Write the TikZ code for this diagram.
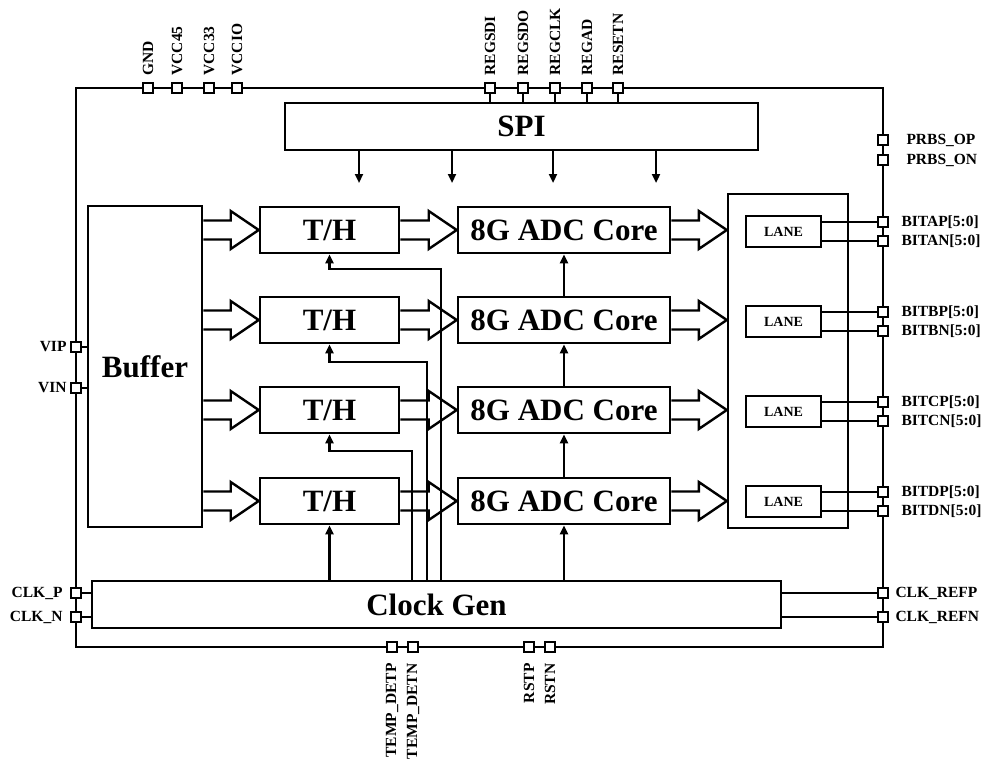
\documentclass[tikz,border=0pt]{standalone}
\usepackage{fontspec}
\setmainfont{Liberation Serif}
\usetikzlibrary{arrows.meta,calc}

% hollow block arrow from #1 to the tip #2 (both given as coordinates)
\newcommand\fatarrow[2]{%
  \draw[hollow] let \p1=#1, \p2=#2 in
    (\x1,\y1+9.5pt) -- (\x2-28pt,\y1+9.5pt) -- (\x2-28pt,\y1+19pt) -- (\x2,\y1)
    -- (\x2-28pt,\y1-19pt) -- (\x2-28pt,\y1-9.5pt) -- (\x1,\y1-9.5pt);}

\begin{document}
\begin{tikzpicture}[x=1pt,y=-1pt,
  box/.style={draw, line width=2.6pt, fill=white, inner sep=0pt},
  pad/.style={draw, line width=2.6pt, fill=white, minimum size=10pt, inner sep=0pt},
  pin/.style={font=\fontsize{15.5}{18}\selectfont\bfseries, inner sep=0pt},
  big/.style={font=\fontsize{31}{35}\selectfont\bfseries},
  wire/.style={line width=2.2pt},
  thinwire/.style={line width=1.8pt},
  sig/.style={line width=2.2pt, -{Triangle[length=9pt,width=8pt]}},
  hollow/.style={line width=2.4pt, fill=white, line join=miter},
]
\useasboundingbox (0,0) rectangle (987,760);

% chip outline
\draw[wire] (76,88) rectangle (883,647);

% ---- functional blocks ----
\node[box, big, minimum width=473pt, minimum height=47pt] (spi) at (521.5,126.5) {SPI};
\node[box, big, minimum width=114pt, minimum height=321pt] (buf) at (145,366.5) {Buffer};
\foreach \i/\y in {1/230,2/320,3/410,4/501}{
  \node[box, big, minimum width=139pt, minimum height=46pt] (th\i) at (329.5,\y) {T/H};
  \node[box, big, minimum width=212pt, minimum height=46pt] (adc\i) at (564,\y) {8G ADC Core};
}
\node[box, line width=2.4pt, minimum width=120pt, minimum height=334pt] (lanes) at (788,361) {};
\foreach \i/\y in {1/231.5,2/321.5,3/411.5,4/501.5}{
  \node[box, line width=2.4pt, font=\fontsize{14}{16}\selectfont\bfseries,
        minimum width=75pt, minimum height=31pt] (lane\i) at (783.5,\y) {LANE};
}
\node[box, big, minimum width=689pt, minimum height=47pt] (clk) at (436.5,604.5) {Clock Gen};

% ---- data path block arrows ----
\foreach \i in {1,...,4}{
  \fatarrow{(buf.east |- th\i.west)}{(th\i.west)}
  \fatarrow{(th\i.east)}{(adc\i.west)}
  \fatarrow{(adc\i.east)}{(lanes.west |- adc\i.east)}
}

% ---- SPI control outputs ----
\foreach \n/\x in {1/359,2/452,3/553,4/656}{
  \coordinate (s\n) at (\x,183);
  \draw[sig] (spi.south -| s\n) -- (s\n);
}

% ---- clock distribution ----
\draw[sig] (clk.north -| th4) -- (th4.south);
\draw[sig] (clk.north -| adc4) -- (adc4.south);
\draw[sig] (adc4.north) -- (adc3.south);
\draw[sig] (adc3.north) -- (adc2.south);
\draw[sig] (adc2.north) -- (adc1.south);
\coordinate (k3) at (412,451);
\coordinate (k2) at (427,362);
\coordinate (k1) at (441,269);
\foreach \i in {1,2,3}{
  \draw[sig] (clk.north -| k\i) -- (k\i) -- (k\i -| th\i) -- (th\i.south);
}

% ---- pads ----
\foreach \nm/\x in {GND/148,VCC45/177,VCC33/209,VCCIO/237,
                    REGSDI/490,REGSDO/523,REGCLK/555,REGAD/587,RESETN/618}{
  \coordinate (c\nm) at (\x,88);
}
\foreach \nm in {REGSDI,REGSDO,REGCLK,REGAD,RESETN}{
  \draw[wire] (c\nm) -- (c\nm |- spi.north);
}
\foreach \nm in {GND,VCC45,VCC33,VCCIO,REGSDI,REGSDO,REGCLK,REGAD,RESETN}{
  \node[pad] (p\nm) at (c\nm) {};
  \node[pin, rotate=90, anchor=west] at ([yshift=6pt]p\nm.north) {\nm};
}

% left side
\foreach \nm/\y in {VIP/347,VIN/388}{
  \coordinate (c\nm) at (76,\y);
  \draw[wire] (c\nm) -- (c\nm -| buf.west);
  \node[pad] (p\nm) at (c\nm) {};
  \node[pin, anchor=east] at ([xshift=-3pt]p\nm.west) {\nm};
}
\foreach \nm/\lab/\y in {CLKP/CLK\_P/593,CLKN/CLK\_N/617}{
  \coordinate (c\nm) at (76,\y);
  \draw[wire] (c\nm) -- (c\nm -| clk.west);
  \node[pad] (p\nm) at (c\nm) {};
  \node[pin, anchor=east] at ([xshift=-7pt]p\nm.west) {\lab};
}

% right side
\foreach \nm/\lab/\y in {PRBSOP/PRBS\_OP/140,PRBSON/PRBS\_ON/160}{
  \node[pad] (p\nm) at (883,\y) {};
  \node[pin, anchor=west] at ([xshift=17pt]p\nm.east) {\lab};
}
\foreach \i/\L in {1/A,2/B,3/C,4/D}{
  \foreach \s/\d in {P/-9.5,N/9.5}{
    \coordinate (cBIT\L\s) at ($(883,0) + (0,0 |- lane\i.east) + (0,\d)$);
    \draw[thinwire] (lane\i.east |- cBIT\L\s) -- (cBIT\L\s);
    \node[pad] (pBIT\L\s) at (cBIT\L\s) {};
    \node[pin, anchor=west] at ([xshift=12pt]pBIT\L\s.east) {BIT\L\s[5:0]};
  }
}
\foreach \nm/\lab/\y in {REFP/CLK\_REFP/593,REFN/CLK\_REFN/617}{
  \coordinate (c\nm) at (883,\y);
  \draw[wire] (clk.east |- c\nm) -- (c\nm);
  \node[pad] (p\nm) at (c\nm) {};
  \node[pin, anchor=west] at ([xshift=6pt]p\nm.east) {\lab};
}

% bottom side
\foreach \nm/\lab/\x in {TDP/TEMP\_DETP/392,TDN/TEMP\_DETN/413,RSTP/RSTP/529,RSTN/RSTN/550}{
  \node[pad] (p\nm) at (\x,647) {};
  \node[pin, rotate=90, anchor=east] at ([yshift=-10pt]p\nm.south) {\lab};
}
\end{tikzpicture}
\end{document}
